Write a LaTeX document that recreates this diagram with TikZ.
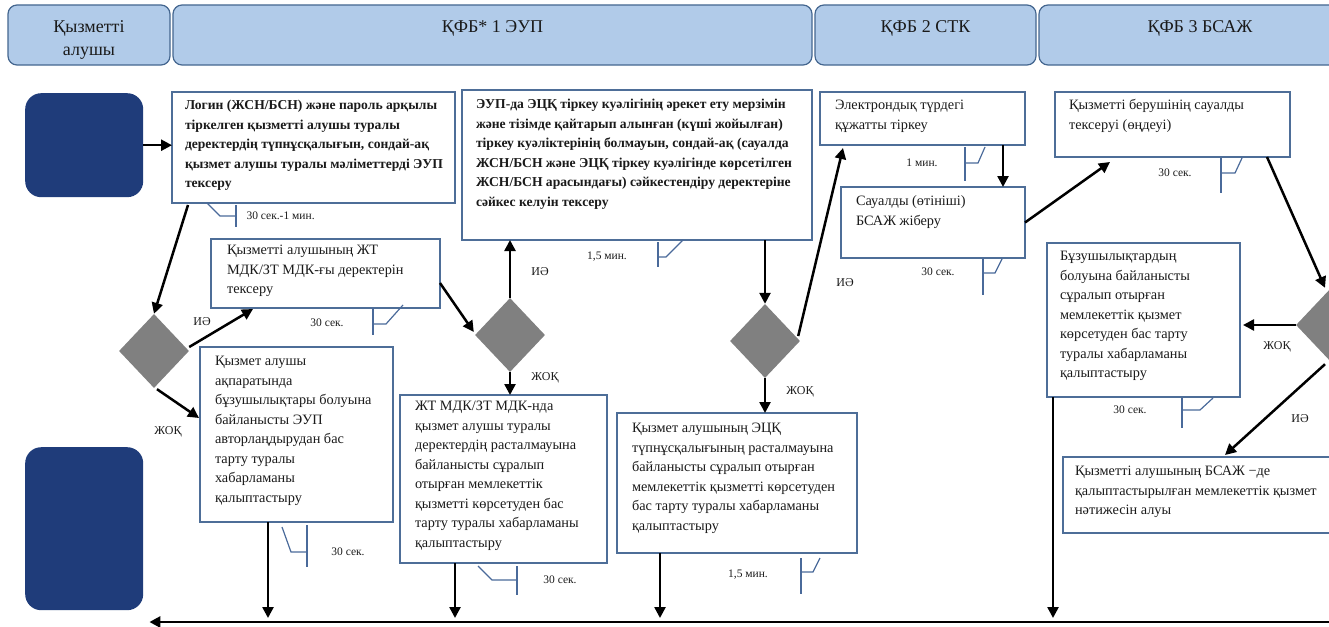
\documentclass[tikz,border=0pt]{standalone}
\usepackage{fontspec}
\setmainfont{Liberation Serif}
\usetikzlibrary{shapes.geometric,arrows.meta,calc}

\definecolor{hdrfill}{HTML}{B1CBE9}
\definecolor{hdrline}{HTML}{44668F}
\definecolor{navy}{HTML}{1F3C7A}
\definecolor{boxline}{HTML}{4E6E98}
\definecolor{dgray}{HTML}{808080}
\definecolor{tickline}{HTML}{4A6A9A}
\definecolor{ink}{HTML}{1A1A1A}

% top-aligned body of a fixed-size cell: width, height, left pad, top pad, lines
\newcommand\cellbody[5]{\parbox[c][#2pt][t]{#1pt}{\vspace*{#4pt}\hspace*{#3pt}\begin{tabular}[t]{@{}l@{}}#5\end{tabular}}}
% header cell: width, height, top pad, text
\newcommand\headbody[4]{\parbox[c][#2pt][t]{#1pt}{\centering\vspace*{#3pt}#4\par}}

\begin{document}
\begin{tikzpicture}[x=1pt,y=-1pt,
  hdr/.style={draw=hdrline, line width=1.2pt, fill=hdrfill, rounded corners=9pt,
    inner sep=0pt, outer sep=0pt, anchor=north west, font=\fontsize{18}{23}\selectfont, text=ink},
  actor/.style={fill=navy, draw=none, rounded corners=16pt, anchor=north west, inner sep=0pt},
  cell/.style={draw=boxline, line width=1.1pt, fill=white, inner sep=0pt, outer sep=0pt,
    anchor=north west, font=\fontsize{14.3}{19.5}\selectfont, text=ink},
  boldcell/.style={cell, font=\fontsize{13.6}{19.5}\selectfont\bfseries},
  gate/.style={shape=diamond, fill=dgray, draw=none, inner sep=0pt,
    minimum width=70pt, minimum height=74pt},
  flow/.style={draw=black, line width=2.5pt, -{Triangle[length=11pt,width=11pt]}},
  tick/.style={draw=tickline, line width=1.2pt},
  timing/.style={font=\fontsize{11.5}{12}\selectfont, text=ink},
  answer/.style={font=\fontsize{12}{12}\selectfont, text=ink}
]
\useasboundingbox (0,0) rectangle (1329,626);
\clip (0,0) rectangle (1329,626);

% ---- swimlane headers ----
\node[hdr] (h1) at (8,5)   {\headbody{162}{60}{16}{Қызметті\\алушы}};
\node[hdr] (h2) at (173,5) {\headbody{639}{60}{16}{ҚФБ* 1 ЭУП}};
\node[hdr] (h3) at (815,5) {\headbody{221}{60}{16}{ҚФБ 2 СТК}};
\node[hdr] (h4) at (1039,5){\headbody{322}{60}{16}{ҚФБ 3 БСАЖ}};

% ---- service recipient: start and end ----
\node[actor, minimum width=118pt, minimum height=104pt] (tl) at (25,93) {};
\node[actor, minimum width=118pt, minimum height=163pt] (bl) at (25,447) {};

% ---- process steps ----
\node[boldcell] (B1) at (172,92) {\cellbody{283}{111}{13}{4}{%
  Логин (ЖСН/БСН) және пароль арқылы\\
  тіркелген қызметті алушы туралы\\
  деректердің  түпнұсқалығын, сондай-ақ\\
  қызмет алушы туралы мәліметтерді ЭУП\\
  тексеру}};

\node[cell] (B2) at (211,239) {\cellbody{229}{69}{16}{2}{%
  Қызметті алушының  ЖТ\\
  МДК/ЗТ МДК-ғы деректерін\\
  тексеру}};

\node[cell] (B3) at (200,347) {\cellbody{193}{175}{15}{5}{%
  Қызмет алушы\\
  ақпаратында\\
  бұзушылықтары болуына\\
  байланысты ЭУП\\
  авторлаңдырудан бас\\
  тарту туралы\\
  хабарламаны\\
  қалыптастыру}};

\node[boldcell] (B4) at (462,90) {\cellbody{350}{150}{14}{5}{%
  ЭУП-да ЭЦҚ тіркеу куәлігінің әрекет ету мерзімін\\
  және тізімде қайтарып алынған (күші жойылған)\\
  тіркеу куәліктерінің болмауын, сондай-ақ (сауалда\\
  ЖСН/БСН және ЭЦҚ тіркеу куәлігінде көрсетілген\\
  ЖСН/БСН арасындағы) сәйкестендіру деректеріне\\
  сәйкес келуін тексеру}};

\node[cell] (B5) at (400,395) {\cellbody{207}{168}{15}{2}{%
  ЖТ МДК/ЗТ МДК-нда\\
  қызмет алушы туралы\\
  деректердің  расталмауына\\
  байланысты сұралып\\
  отырған мемлекеттік\\
  қызметті көрсетуден бас\\
  тарту туралы хабарламаны\\
  қалыптастыру}};

\node[cell] (B6) at (617,413) {\cellbody{240}{140}{15}{6}{%
  Қызмет алушының ЭЦҚ\\
  түпнұсқалығының расталмауына\\
  байланысты сұралып отырған\\
  мемлекеттік қызметті көрсетуден\\
  бас тарту туралы хабарламаны\\
  қалыптастыру}};

\node[cell] (B7) at (820,92) {\cellbody{205}{53}{15}{4}{%
  Электрондық түрдегі\\
  құжатты тіркеу}};

\node[cell] (B8) at (841,187) {\cellbody{184}{71}{15}{5}{%
  Сауалды (өтініші)\\
  БСАЖ жіберу}};

\node[cell] (B9) at (1055,92) {\cellbody{235}{65}{14}{4}{%
  Қызметті берушінің сауалды\\
  тексеруі (өңдеуі)}};

\node[cell] (B10) at (1047,243) {\cellbody{193}{154}{13}{4}{%
  Бұзушылықтардың\\
  болуына байланысты\\
  сұралып отырған\\
  мемлекеттік қызмет\\
  көрсетуден бас тарту\\
  туралы хабарламаны\\
  қалыптастыру}};

\node[cell] (B11) at (1063,457) {\cellbody{290}{76}{12}{5}{%
  Қызметті алушының БСАЖ −де\\
  қалыптастырылған мемлекеттік қызмет\\
  нәтижесін алуы}};

% ---- decisions ----
\node[gate] (D1) at (154,351) {};
\node[gate] (D2) at (510,335) {};
\node[gate] (D3) at (765,341) {};
\node[gate] (D4) at (1331,325) {};

% ---- flow ----
\draw[flow] (tl.east) -- (tl.east -| B1.west);
\draw[flow] ($(B1.south west)+(16,2)$) -- (D1.north);
\draw[flow] ($(D1.east)+(0,-4)$) -- ($(B2.south west)+(42,1)$);
\draw[flow] ($(D1.south)+(3,1)$) -- ($(B3.north west)+(-1,71)$);
\draw[flow] ($(B2.north east)+(0,44)$) -- ($(D2.west)+(-1,-3)$);
\draw[flow] (D2.north) -- (D2.north |- B4.south);
\draw[flow] (D2.south) -- (D2.south |- B5.north);
\draw[flow] (D3.north |- B4.south) -- (D3.north);
\draw[flow] ($(D3.east)+(-2,-5)$) -- ($(B7.south west)+(23,3)$);
\draw[flow] (D3.south) -- (D3.south |- B6.north);
\draw[flow] ($(B7.south west)+(183,0)$) -- ($(B8.north west)+(162,0)$);
\draw[flow] (B8.east) -- ($(B9.south west)+(55,5)$);
\draw[flow] ($(B9.south east)+(-23,0)$) -- ($(D4.north)+(-6,0)$);
\draw[flow] (D4.west) -- ($(D4.west -| B10.east)+(3,0)$);
\draw[flow] ($(D4.south)+(-6,2)$) -- ($(B11.north west)+(162,-2)$);

% drops to the return rail
\coordinate (floor) at (0,618);
\coordinate (rail) at (1340,622);
\coordinate (s3) at ($(B3.south west)+(68,0)$);
\coordinate (s5) at ($(B5.south west)+(55,0)$);
\coordinate (s6) at ($(B6.south west)+(43,0)$);
\coordinate (s10) at ($(B10.south west)+(6,0)$);
\draw[flow] (s3) -- (s3 |- floor);
\draw[flow] (s5) -- (s5 |- floor);
\draw[flow] (s6) -- (s6 |- floor);
\draw[flow] (s10) -- (s10 |- floor);
\coordinate (railend) at ($(rail -| bl.east)+(6,0)$);
\draw[flow, line width=2.8pt] (rail) -- (railend);

% ---- answers ----
\node[answer] (y1) at (202,322) {ИӘ};
\node[answer] (n1) at (168,432) {ЖОҚ};
\node[answer] (y2) at (540,272) {ИӘ};
\node[answer] (n2) at (545,378) {ЖОҚ};
\node[answer] (y3) at (845,283) {ИӘ};
\node[answer] (n3) at (800,392) {ЖОҚ};
\node[answer] (n4) at (1277,347) {ЖОҚ};
\node[answer] (y4) at (1300,419) {ИӘ};

% ---- durations with their brackets ----
\draw[tick] (207,203) -- (220,216) -- (236,216);
\draw[tick] (236,205) -- (236,227);
\node[timing, anchor=west] (t1) at (243,216) {30 сек.-1 мин.};

\draw[tick] (373,308) -- (373,335);
\draw[tick] (373,324) -- (386,324) -- (403,305);
\node[timing] (t2) at (327,323) {30 сек.};

\draw[tick] (658,242) -- (658,267);
\draw[tick] (658,257) -- (666,257) -- (683,240);
\node[timing] (t3) at (607,257) {1,5 мин.};

\draw[tick] (965,147) -- (965,181);
\draw[tick] (965,163) -- (978,163) -- (985,147);
\node[timing] (t4) at (922,163) {1 мин.};

\draw[tick] (983,259) -- (983,295);
\draw[tick] (983,273) -- (995,273) -- (1002,259);
\node[timing] (t5) at (938,272) {30 сек.};

\draw[tick] (1221,158) -- (1221,193);
\draw[tick] (1221,173) -- (1235,173) -- (1242,158);
\node[timing] (t6) at (1175,173) {30 сек.};

\draw[tick] (1182,398) -- (1182,428);
\draw[tick] (1182,410) -- (1200,410) -- (1213,398);
\node[timing] (t7) at (1130,410) {30 сек.};

\draw[tick] (282,527) -- (291,552) -- (307,552);
\draw[tick] (307,525) -- (307,567);
\node[timing] (t8) at (348,552) {30 сек.};

\draw[tick] (478,566) -- (492,580) -- (517,580);
\draw[tick] (517,566) -- (517,595);
\node[timing] (t9) at (560,580) {30 сек.};

\draw[tick] (801,558) -- (801,594);
\draw[tick] (801,572) -- (813,572) -- (820,558);
\node[timing] (t10) at (748,575) {1,5 мин.};
\end{tikzpicture}
\end{document}
